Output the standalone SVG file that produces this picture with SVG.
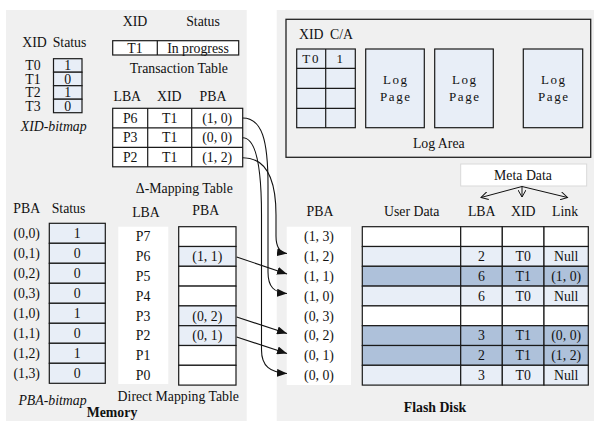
<svg xmlns="http://www.w3.org/2000/svg" width="594" height="421" viewBox="0 0 594 421">
<style>
text{font-family:"Liberation Serif","Times New Roman",serif;font-size:13.8px;fill:#111;text-anchor:middle}
.it{font-style:italic}
.b{font-weight:bold}
.mono{font-family:"Liberation Serif","Times New Roman",serif;font-size:13px;letter-spacing:1.6px}
.cell{fill:#fff;stroke:#1a1a1a;stroke-width:1.2}
.lt{fill:#e8eef7;stroke:#1a1a1a;stroke-width:1.2}
.dk{fill:#aec1da;stroke:#1a1a1a;stroke-width:1.2}
.ln{stroke:#1a1a1a;stroke-width:1.2;fill:none}
.arr{stroke:#111;stroke-width:1.1;fill:none;marker-end:url(#ah)}
.oarr{stroke:#111;stroke-width:1;fill:none;marker-end:url(#oh)}
</style>
<defs>
<marker id="ah" markerUnits="userSpaceOnUse" markerWidth="10" markerHeight="8" refX="10" refY="4" orient="auto"><path d="M0,0 L10,4 L0,8 z" fill="#111"/></marker>
<marker id="oh" markerUnits="userSpaceOnUse" markerWidth="8" markerHeight="8" refX="7" refY="4" orient="auto"><path d="M0,0 L7,4 L0,8" fill="none" stroke="#111" stroke-width="1"/></marker>
</defs>
<rect x="0" y="0" width="594" height="421" fill="#fff"/>
<rect x="6" y="10" width="240.7" height="411" fill="#f0f0f0"/>
<rect x="276.7" y="10" width="317.3" height="411" fill="#f0f0f0"/>

<g id="xid-bitmap">
<text x="34.5" y="47">XID</text><text x="69.5" y="47">Status</text>
<rect class="lt" x="53.5" y="58.7" width="28.5" height="13.5"/>
<rect class="lt" x="53.5" y="72.2" width="28.5" height="13.5"/>
<rect class="lt" x="53.5" y="85.7" width="28.5" height="13.5"/>
<rect class="lt" x="53.5" y="99.2" width="28.5" height="13.5"/>
<text x="33" y="70">T0</text><text x="67.7" y="70">1</text>
<text x="33" y="83.5">T1</text><text x="67.7" y="83.5">0</text>
<text x="33" y="97">T2</text><text x="67.7" y="97">1</text>
<text x="33" y="110.5">T3</text><text x="67.7" y="110.5">0</text>
<text class="it" x="53.7" y="131">XID-bitmap</text>
</g>

<g id="transaction-table">
<text x="135" y="26">XID</text><text x="203" y="26">Status</text>
<rect class="cell" x="112.7" y="40.7" width="126" height="14.3"/>
<line class="ln" x1="157.3" y1="40.7" x2="157.3" y2="55"/>
<text x="135" y="52.5">T1</text><text x="198" y="52.5">In progress</text>
<text x="178.8" y="73">Transaction Table</text>
</g>

<g id="delta-mapping-table">
<text x="127.3" y="100.5">LBA</text><text x="169.3" y="100.5">XID</text><text x="213" y="100.5">PBA</text>
<rect class="cell" x="112.7" y="108.3" width="130" height="58.5"/>
<line class="ln" x1="112.7" y1="127.8" x2="242.7" y2="127.8"/>
<line class="ln" x1="112.7" y1="147.3" x2="242.7" y2="147.3"/>
<line class="ln" x1="147.7" y1="108.3" x2="147.7" y2="166.8"/>
<line class="ln" x1="191.7" y1="108.3" x2="191.7" y2="166.8"/>
<text x="130.2" y="122.8">P6</text><text x="169.7" y="122.8">T1</text><text x="217.2" y="122.8">(1, 0)</text>
<text x="130.2" y="142.3">P3</text><text x="169.7" y="142.3">T1</text><text x="217.2" y="142.3">(0, 0)</text>
<text x="130.2" y="161.8">P2</text><text x="169.7" y="161.8">T1</text><text x="217.2" y="161.8">(1, 2)</text>
<text x="184.3" y="193">Δ-Mapping Table</text>
</g>

<g id="pba-bitmap">
<text x="26.7" y="213">PBA</text><text x="68.5" y="213">Status</text>
<rect class="lt" x="49.3" y="223.3" width="56" height="20"/>
<rect class="lt" x="49.3" y="243.3" width="56" height="20"/>
<rect class="lt" x="49.3" y="263.3" width="56" height="20"/>
<rect class="lt" x="49.3" y="283.3" width="56" height="20"/>
<rect class="lt" x="49.3" y="303.3" width="56" height="20"/>
<rect class="lt" x="49.3" y="323.3" width="56" height="20"/>
<rect class="lt" x="49.3" y="343.3" width="56" height="20"/>
<rect class="lt" x="49.3" y="363.3" width="56" height="20"/>
<text x="26.7" y="238">(0,0)</text><text x="77.3" y="238">1</text>
<text x="26.7" y="258">(0,1)</text><text x="77.3" y="258">0</text>
<text x="26.7" y="278">(0,2)</text><text x="77.3" y="278">0</text>
<text x="26.7" y="298">(0,3)</text><text x="77.3" y="298">0</text>
<text x="26.7" y="318">(1,0)</text><text x="77.3" y="318">1</text>
<text x="26.7" y="338">(1,1)</text><text x="77.3" y="338">0</text>
<text x="26.7" y="358">(1,2)</text><text x="77.3" y="358">1</text>
<text x="26.7" y="378">(1,3)</text><text x="77.3" y="378">0</text>
<text class="it" x="52.5" y="405">PBA-bitmap</text>
</g>

<g id="direct-mapping-table">
<text x="146" y="217">LBA</text><text x="205.7" y="215">PBA</text>
<rect x="118.3" y="226.7" width="50" height="157.3" fill="#fff"/>
<rect class="cell" x="178.7" y="226.7" width="57.3" height="19.8"/>
<rect class="lt" x="178.7" y="246.5" width="57.3" height="19.8"/>
<rect class="cell" x="178.7" y="266.3" width="57.3" height="19.8"/>
<rect class="cell" x="178.7" y="286.1" width="57.3" height="19.8"/>
<rect class="lt" x="178.7" y="305.9" width="57.3" height="19.8"/>
<rect class="lt" x="178.7" y="325.7" width="57.3" height="19.8"/>
<rect class="cell" x="178.7" y="345.5" width="57.3" height="19.8"/>
<rect class="cell" x="178.7" y="365.3" width="57.3" height="19.8"/>
<text x="143" y="241.3">P7</text>
<text x="143" y="261.1">P6</text><text x="207.3" y="261.1">(1, 1)</text>
<text x="143" y="280.9">P5</text>
<text x="143" y="300.7">P4</text>
<text x="143" y="320.5">P3</text><text x="207.3" y="320.5">(0, 2)</text>
<text x="143" y="340.3">P2</text><text x="207.3" y="340.3">(0, 1)</text>
<text x="143" y="360.1">P1</text>
<text x="143" y="379.9">P0</text>
<text x="178.3" y="401">Direct Mapping Table</text>
<text class="b" x="112" y="416.5">Memory</text>
</g>

<g id="log-area">
<rect x="286" y="19.3" width="304.7" height="138" fill="none" stroke="#222" stroke-width="1.3"/>
<text x="311.3" y="39">XID</text><text x="341.5" y="39">C/A</text>
<rect class="lt" x="296.7" y="49" width="58.6" height="78.7"/>
<line class="ln" x1="325.7" y1="49" x2="325.7" y2="127.7"/>
<line class="ln" x1="296.7" y1="68.3" x2="355.3" y2="68.3"/>
<line class="ln" x1="296.7" y1="88.3" x2="355.3" y2="88.3"/>
<line class="ln" x1="296.7" y1="108.3" x2="355.3" y2="108.3"/>
<text class="mono" x="311.2" y="63">T0</text><text class="mono" x="340.5" y="63">1</text>
<rect class="lt" x="365.7" y="49" width="58.6" height="78.7"/>
<rect class="lt" x="434.7" y="49" width="58.6" height="78.7"/>
<rect class="lt" x="523.3" y="49" width="59.4" height="78.7"/>
<text class="mono" x="395.8" y="84">Log</text><text class="mono" x="395.8" y="101">Page</text>
<text class="mono" x="464.8" y="84">Log</text><text class="mono" x="464.8" y="101">Page</text>
<text class="mono" x="553.8" y="84">Log</text><text class="mono" x="553.8" y="101">Page</text>
<text x="438.8" y="148">Log Area</text>
</g>

<g id="meta-data">
<rect x="460.7" y="164" width="126" height="22" fill="#fff" stroke="#d9d9d9" stroke-width="1"/>
<text x="523" y="180">Meta Data</text>
</g>

<g id="flash-disk">
<text x="320" y="216">PBA</text><text x="411.7" y="216">User Data</text>
<text x="481.7" y="216">LBA</text><text x="523.3" y="216">XID</text><text x="565" y="216">Link</text>
<rect x="286.7" y="226.7" width="64.3" height="158.3" fill="#fff"/>
<g>
<rect class="cell" x="362.3" y="226.7" width="98.4" height="19.8"/><rect class="cell" x="460.7" y="226.7" width="41.6" height="19.8"/><rect class="cell" x="502.3" y="226.7" width="41.7" height="19.8"/><rect class="cell" x="544" y="226.7" width="44.3" height="19.8"/>
<rect class="lt" x="362.3" y="246.5" width="98.4" height="19.8"/><rect class="lt" x="460.7" y="246.5" width="41.6" height="19.8"/><rect class="lt" x="502.3" y="246.5" width="41.7" height="19.8"/><rect class="lt" x="544" y="246.5" width="44.3" height="19.8"/>
<rect class="dk" x="362.3" y="266.3" width="98.4" height="19.8"/><rect class="dk" x="460.7" y="266.3" width="41.6" height="19.8"/><rect class="dk" x="502.3" y="266.3" width="41.7" height="19.8"/><rect class="dk" x="544" y="266.3" width="44.3" height="19.8"/>
<rect class="lt" x="362.3" y="286.1" width="98.4" height="19.8"/><rect class="lt" x="460.7" y="286.1" width="41.6" height="19.8"/><rect class="lt" x="502.3" y="286.1" width="41.7" height="19.8"/><rect class="lt" x="544" y="286.1" width="44.3" height="19.8"/>
<rect class="cell" x="362.3" y="305.9" width="98.4" height="19.8"/><rect class="cell" x="460.7" y="305.9" width="41.6" height="19.8"/><rect class="cell" x="502.3" y="305.9" width="41.7" height="19.8"/><rect class="cell" x="544" y="305.9" width="44.3" height="19.8"/>
<rect class="dk" x="362.3" y="325.7" width="98.4" height="19.8"/><rect class="dk" x="460.7" y="325.7" width="41.6" height="19.8"/><rect class="dk" x="502.3" y="325.7" width="41.7" height="19.8"/><rect class="dk" x="544" y="325.7" width="44.3" height="19.8"/>
<rect class="dk" x="362.3" y="345.5" width="98.4" height="19.8"/><rect class="dk" x="460.7" y="345.5" width="41.6" height="19.8"/><rect class="dk" x="502.3" y="345.5" width="41.7" height="19.8"/><rect class="dk" x="544" y="345.5" width="44.3" height="19.8"/>
<rect class="lt" x="362.3" y="365.3" width="98.4" height="19.8"/><rect class="lt" x="460.7" y="365.3" width="41.6" height="19.8"/><rect class="lt" x="502.3" y="365.3" width="41.7" height="19.8"/><rect class="lt" x="544" y="365.3" width="44.3" height="19.8"/>
</g>
<text x="319" y="241.3">(1, 3)</text>
<text x="319" y="261.1">(1, 2)</text><text x="481.5" y="261.1">2</text><text x="523.2" y="261.1">T0</text><text x="566.2" y="261.1">Null</text>
<text x="319" y="280.9">(1, 1)</text><text x="481.5" y="280.9">6</text><text x="523.2" y="280.9">T1</text><text x="566.2" y="280.9">(1, 0)</text>
<text x="319" y="300.7">(1, 0)</text><text x="481.5" y="300.7">6</text><text x="523.2" y="300.7">T0</text><text x="566.2" y="300.7">Null</text>
<text x="319" y="320.5">(0, 3)</text>
<text x="319" y="340.3">(0, 2)</text><text x="481.5" y="340.3">3</text><text x="523.2" y="340.3">T1</text><text x="566.2" y="340.3">(0, 0)</text>
<text x="319" y="360.1">(0, 1)</text><text x="481.5" y="360.1">2</text><text x="523.2" y="360.1">T1</text><text x="566.2" y="360.1">(1, 2)</text>
<text x="319" y="379.9">(0, 0)</text><text x="481.5" y="379.9">3</text><text x="523.2" y="379.9">T0</text><text x="566.2" y="379.9">Null</text>
<text class="b" x="435" y="412">Flash Disk</text>
</g>

<g id="connectors">
<path class="oarr" d="M522,186.5 L481,197.5"/>
<path class="oarr" d="M522,186.5 L522,197"/>
<path class="oarr" d="M522,186.5 L567.5,197.5"/>
<path class="arr" d="M236.7,257 L287,274"/>
<path class="arr" d="M236.7,317 L287,333.5"/>
<path class="arr" d="M236.7,337 L287,353.5"/>
<path class="arr" d="M242.7,118 C262,118 268,140 268,185 L268,272 C268,287 274,292.5 287,293.5"/>
<path class="arr" d="M242.7,137.7 C256,137.7 261.5,165 261.5,215 L261.5,350 C261.5,366 270,372.5 287,373.5"/>
<path class="arr" d="M242.7,157.7 C266,157.7 276,178 276,215 L276,236 C276,246 279,252.5 287,253.5"/>
</g>
</svg>
